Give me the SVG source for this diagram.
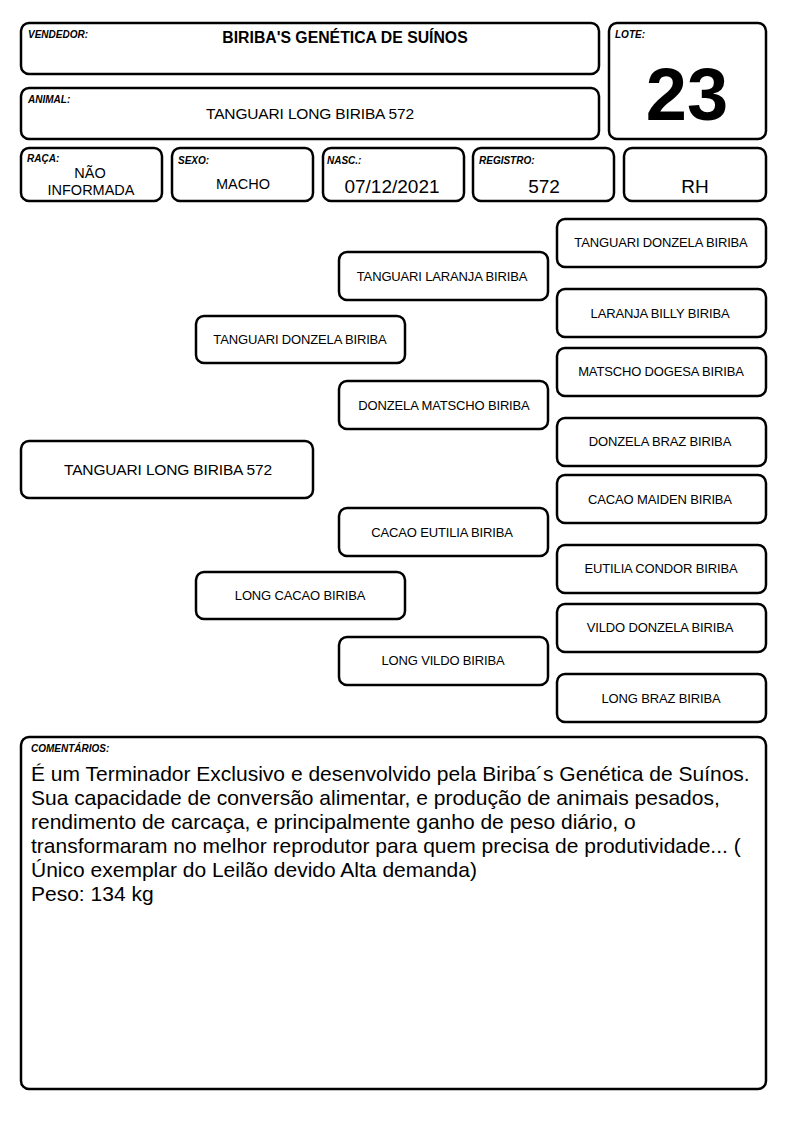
<svg xmlns="http://www.w3.org/2000/svg" width="794" height="1123" viewBox="0 0 794 1123">
<style>
.box{fill:#fff;stroke:#000;stroke-width:2.5}
.lbl{font-family:"Liberation Sans",Arial,sans-serif;font-size:10px;font-weight:bold;font-style:italic;fill:#000}
.val{font-family:"Liberation Sans",Arial,sans-serif;fill:#000;text-anchor:middle}
.nd{font-family:"Liberation Sans",Arial,sans-serif;font-size:13px;fill:#000;text-anchor:middle;letter-spacing:-0.15px}
.cm{font-family:"Liberation Sans",Arial,sans-serif;font-size:21px;fill:#000}
</style>
<rect width="794" height="1123" fill="#fff"/>
<g id="vendedor">
<rect class="box" x="21" y="23" width="578" height="51" rx="8"/>
<text class="lbl" x="28" y="38">VENDEDOR:</text>
<text class="val" x="345" y="43" font-size="15.8" font-weight="bold">BIRIBA'S GENÉTICA DE SUÍNOS</text>
</g>
<g id="lote">
<rect class="box" x="609" y="23" width="157" height="116" rx="8"/>
<text class="lbl" x="615" y="38">LOTE:</text>
<text class="val" x="687" y="120" font-size="74" font-weight="bold">23</text>
</g>
<g id="animal">
<rect class="box" x="21" y="88" width="578" height="51" rx="8"/>
<text class="lbl" x="28" y="103">ANIMAL:</text>
<text class="val" x="310" y="119" font-size="15.5" letter-spacing="-0.15">TANGUARI LONG BIRIBA 572</text>
</g>
<g id="raca">
<rect class="box" x="21" y="148" width="141" height="53" rx="8"/>
<text class="lbl" x="27" y="162">RAÇA:</text>
<text class="val" x="90" y="178" font-size="14.5">NÃO</text>
<text class="val" x="91" y="195" font-size="14.5">INFORMADA</text>
</g>
<g id="sexo">
<rect class="box" x="172" y="148" width="141" height="53" rx="8"/>
<text class="lbl" x="178" y="164">SEXO:</text>
<text class="val" x="243" y="189" font-size="14.5">MACHO</text>
</g>
<g id="nasc">
<rect class="box" x="323" y="148" width="141" height="53" rx="8"/>
<text class="lbl" x="327" y="164">NASC.:</text>
<text class="val" x="392" y="193" font-size="19">07/12/2021</text>
</g>
<g id="registro">
<rect class="box" x="473" y="148" width="141" height="53" rx="8"/>
<text class="lbl" x="479" y="164">REGISTRO:</text>
<text class="val" x="544" y="193" font-size="19">572</text>
</g>
<g id="rh">
<rect class="box" x="624" y="148" width="142" height="53" rx="8"/>
<text class="val" x="695" y="193" font-size="19">RH</text>
</g>
<g id="connectors"></g>
<g id="n0">
<rect class="box" x="21" y="441" width="292" height="57" rx="8"/>
<text class="val" x="168" y="475" font-size="15.5" letter-spacing="-0.15">TANGUARI LONG BIRIBA 572</text>
</g>
<g id="n1">
<rect class="box" x="196" y="316" width="209" height="47" rx="8"/>
<text class="nd" x="300" y="344">TANGUARI DONZELA BIRIBA</text>
</g>
<g id="n2">
<rect class="box" x="196" y="572" width="209" height="47" rx="8"/>
<text class="nd" x="300" y="600">LONG CACAO BIRIBA</text>
</g>
<g id="n3">
<rect class="box" x="339" y="252" width="209" height="48" rx="8"/>
<text class="nd" x="442" y="281">TANGUARI LARANJA BIRIBA</text>
</g>
<g id="n4">
<rect class="box" x="339" y="381" width="209" height="48" rx="8"/>
<text class="nd" x="444" y="410">DONZELA MATSCHO BIRIBA</text>
</g>
<g id="n5">
<rect class="box" x="339" y="508" width="209" height="48" rx="8"/>
<text class="nd" x="442" y="537">CACAO EUTILIA BIRIBA</text>
</g>
<g id="n6">
<rect class="box" x="339" y="637" width="209" height="48" rx="8"/>
<text class="nd" x="443" y="665">LONG VILDO BIRIBA</text>
</g>
<g id="n7">
<rect class="box" x="557" y="219" width="209" height="48" rx="8"/>
<text class="nd" x="661" y="247">TANGUARI DONZELA BIRIBA</text>
</g>
<g id="n8">
<rect class="box" x="557" y="289" width="209" height="48" rx="8"/>
<text class="nd" x="660" y="318">LARANJA BILLY BIRIBA</text>
</g>
<g id="n9">
<rect class="box" x="557" y="348" width="209" height="48" rx="8"/>
<text class="nd" x="661" y="376">MATSCHO DOGESA BIRIBA</text>
</g>
<g id="n10">
<rect class="box" x="557" y="418" width="209" height="48" rx="8"/>
<text class="nd" x="660" y="446">DONZELA BRAZ BIRIBA</text>
</g>
<g id="n11">
<rect class="box" x="557" y="475" width="209" height="48" rx="8"/>
<text class="nd" x="660" y="504">CACAO MAIDEN BIRIBA</text>
</g>
<g id="n12">
<rect class="box" x="557" y="545" width="209" height="48" rx="8"/>
<text class="nd" x="661" y="573">EUTILIA CONDOR BIRIBA</text>
</g>
<g id="n13">
<rect class="box" x="557" y="604" width="209" height="48" rx="8"/>
<text class="nd" x="660" y="632">VILDO DONZELA BIRIBA</text>
</g>
<g id="n14">
<rect class="box" x="557" y="674" width="209" height="48" rx="8"/>
<text class="nd" x="661" y="703">LONG BRAZ BIRIBA</text>
</g>
<g id="comentarios">
<rect class="box" x="21" y="737" width="745" height="352" rx="8"/>
<text class="lbl" x="31" y="752">COMENTÁRIOS:</text>
<text class="cm" x="31" y="781">É um Terminador Exclusivo e desenvolvido pela Biriba´s Genética de Suínos.</text>
<text class="cm" x="31" y="805">Sua capacidade de conversão alimentar, e produção de animais pesados,</text>
<text class="cm" x="31" y="829">rendimento de carcaça, e principalmente ganho de peso diário, o</text>
<text class="cm" x="31" y="853">transformaram no melhor reprodutor para quem precisa de produtividade... (</text>
<text class="cm" x="31" y="877">Único exemplar do Leilão devido Alta demanda)</text>
<text class="cm" x="31" y="901">Peso: 134 kg</text>
</g>
</svg>
